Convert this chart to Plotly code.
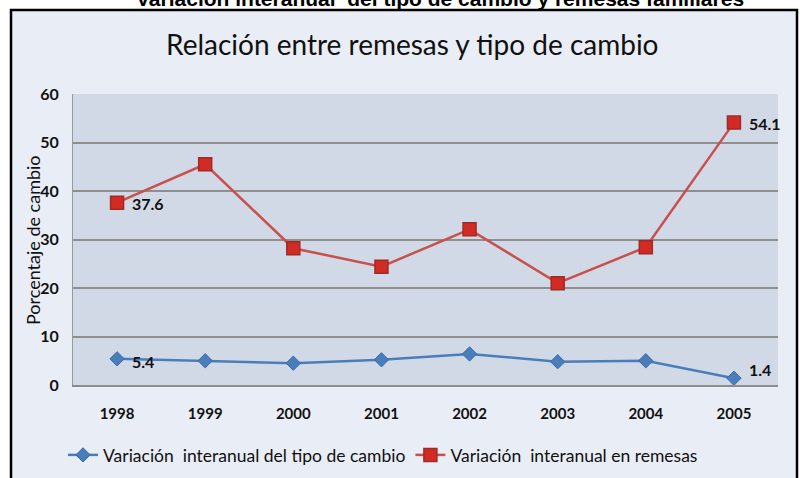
import plotly.graph_objects as go

years = ["1998", "1999", "2000", "2001", "2002", "2003", "2004", "2005"]
tipo_cambio = [5.4, 5.0, 4.5, 5.2, 6.4, 4.8, 5.0, 1.4]
remesas = [37.6, 45.5, 28.2, 24.4, 32.1, 21.0, 28.4, 54.1]
y_ticks = [0, 10, 20, 30, 40, 50, 60]

name_tc = "Variación\u00a0\u00a0interanual del tipo de cambio"
name_rem = "Variación\u00a0\u00a0interanual en remesas"

FONT = "Lato, 'Open Sans', sans-serif"
BLUE = "#4A7EBB"
RED = "#C8504D"

fig = go.Figure()
fig.add_trace(go.Scatter(
    x=years, y=tipo_cambio, name=name_tc, mode="lines+markers",
    line=dict(color=BLUE, width=2.5),
    marker=dict(symbol="diamond", size=11, color=BLUE, line=dict(color="#3A6AA5", width=1)),
    cliponaxis=False,
))
fig.add_trace(go.Scatter(
    x=years, y=remesas, name=name_rem, mode="lines+markers",
    line=dict(color=RED, width=2.5),
    marker=dict(symbol="square", size=13, color="#D22B24", line=dict(color="#9E2B28", width=1.5)),
    cliponaxis=False,
))

ml, mr, mt, mb = 73, 22, 94, 93
W, H = 800, 478
pw, ph = W - ml - mr, H - mt - mb

def px(x):
    return (x - ml) / pw

def py(y):
    return (H - mb - y) / ph

label_font = dict(family=FONT, size=16, color="#111111", weight="bold")
labels = []
# first / last value labels, anchored at the data points (category index on x)
for vals, yshifts in ((remesas, (-1, -1)), (tipo_cambio, (-3, 9))):
    for idx, ys in zip((0, len(vals) - 1), yshifts):
        labels.append(dict(
            x=idx, y=vals[idx], xref="x", yref="y",
            text=f"{vals[idx]:.1f}", showarrow=False,
            xanchor="left", yanchor="middle", xshift=13, yshift=ys,
            font=label_font,
        ))

fig.update_layout(
    width=W, height=H,
    margin=dict(l=ml, r=mr, t=mt, b=mb, autoexpand=False),
    paper_bgcolor="white",
    plot_bgcolor="rgba(0,0,0,0)",
    font=dict(family=FONT, color="#111111"),
    showlegend=True,
    legend=dict(
        orientation="h", x=px(63), y=py(455), xanchor="left", yanchor="middle",
        font=dict(family=FONT, size=17.5, color="#111111"),
        bgcolor="rgba(0,0,0,0)", itemwidth=30, tracegroupgap=0,
    ),
    shapes=[
        dict(type="rect", xref="paper", yref="paper", layer="below",
             x0=px(11), x1=px(797), y0=py(490), y1=py(10),
             fillcolor="#E9EDF5", line=dict(color="black", width=2.5)),
        dict(type="rect", xref="paper", yref="paper", layer="below",
             x0=0, x1=1, y0=0, y1=1,
             fillcolor="#D1D9E7", line=dict(width=0)),
    ],
    annotations=[
        dict(text="<b>Variación interanual\u00a0\u00a0del tipo de cambio y remesas familiares</b>",
             xref="paper", yref="paper", x=px(440), y=py(-2), xanchor="center", yanchor="middle",
             showarrow=False, font=dict(family="Liberation Sans, Arial, sans-serif", size=21, color="black")),
        dict(text="Relación entre remesas y tipo de cambio",
             xref="paper", yref="paper", x=px(412), y=py(44), xanchor="center", yanchor="middle",
             showarrow=False, font=dict(family=FONT, size=28, color="#111111")),
        dict(text="Porcentaje de cambio", textangle=-90,
             xref="paper", yref="paper", x=px(33), y=py(240), xanchor="center", yanchor="middle",
             showarrow=False, font=dict(family=FONT, size=18, color="#111111")),
    ] + labels,
)

fig.update_xaxes(
    type="category", range=[-0.5, 7.5], automargin=False,
    showgrid=False, zeroline=False,
    showline=True, linecolor="#8C8C8C", linewidth=1.5,
    ticks="", ticklabelstandoff=14,
    tickfont=dict(family=FONT, size=15, color="#111111", weight="bold"),
)
fig.update_yaxes(
    range=[0, 60], tickvals=y_ticks, ticktext=[str(v) for v in y_ticks], automargin=False,
    showgrid=True, gridcolor="#8E8E8E", gridwidth=1.5,
    zeroline=False, showline=True, linecolor="#9A9A9A", linewidth=1,
    ticks="", ticklabelstandoff=10,
    tickfont=dict(family=FONT, size=16, color="#111111", weight="bold"),
)

fig.write_html("out.html", config={"displayModeBar": False},
               post_script="document.body.style.margin='0';document.body.style.overflow='hidden';")
